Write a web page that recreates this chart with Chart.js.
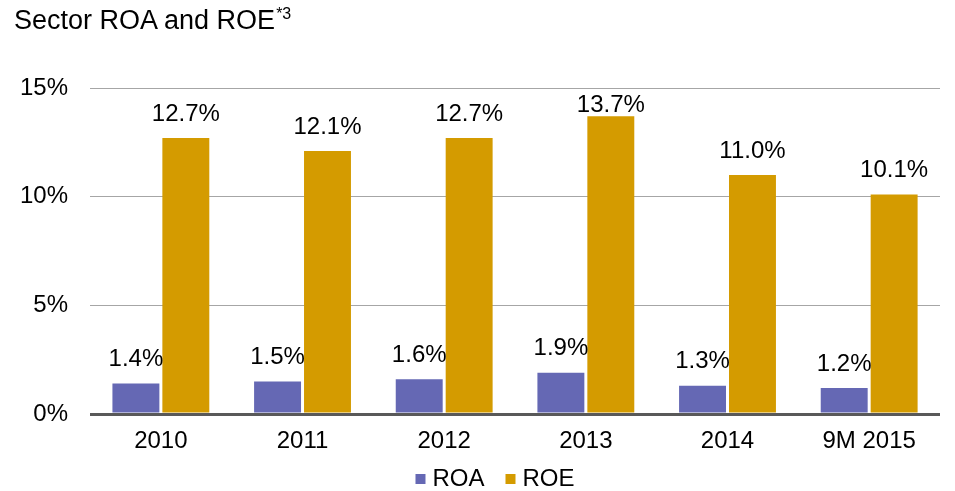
<!DOCTYPE html>
<html>
<head>
<meta charset="utf-8">
<script src="https://cdn.jsdelivr.net/npm/chart.js@4"></script>
<style>
  html, body { margin: 0; padding: 0; background: #ffffff; }
  #wrap { position: relative; width: 955px; height: 491px; }
  #title { position: absolute; left: 14px; top: -1px; line-height: 30px; font-family: "Liberation Sans", Arial, sans-serif; font-size: 27px; color: #000; white-space: nowrap; }
  #title sup { font-size: 16px; position: relative; top: 0px; margin-left: 1px; }
  canvas { position: absolute; left: 0; top: 0; }
</style>
</head>
<body>
<div id="wrap">
  <canvas id="c" width="955" height="491"></canvas>
  <div id="title">Sector ROA and ROE<sup>*3</sup></div>
</div>
<script>
const categories = ["2010", "2011", "2012", "2013", "2014", "9M 2015"];
const roaValues = [1.4, 1.5, 1.6, 1.9, 1.3, 1.2];
const roeValues = [12.7, 12.1, 12.7, 13.7, 11.0, 10.1];
const yTicks = [0, 5, 10, 15];

const FONT = "'Liberation Sans', Arial, sans-serif";

const valueLabels = {
  id: 'valueLabels',
  afterDatasetsDraw(chart) {
    const ctx = chart.ctx;
    ctx.save();
    ctx.font = "24px " + FONT;
    ctx.fillStyle = "#000";
    ctx.textAlign = "center";
    ctx.textBaseline = "middle";
    chart.data.datasets.forEach((ds, di) => {
      const meta = chart.getDatasetMeta(di);
      meta.data.forEach((bar, i) => {
        let y = bar.y - 24;
        const minY = chart.chartArea.top + 17;
        if (y < minY) y = minY;
        ctx.fillText(ds.data[i].toFixed(1) + "%", bar.x, y);
      });
    });
    ctx.restore();
  }
};

const bottomLegend = {
  id: 'bottomLegend',
  afterDraw(chart) {
    const ctx = chart.ctx;
    ctx.save();
    ctx.font = "24px " + FONT;
    ctx.textBaseline = "middle";
    ctx.textAlign = "left";
    const box = 10, boxGap = 7, itemGap = 21;
    const items = chart.data.datasets.map(ds => ({ text: ds.label, color: ds.backgroundColor, w: ctx.measureText(ds.label).width }));
    let total = 0;
    items.forEach((it, i) => { total += box + boxGap + it.w + (i ? itemGap : 0); });
    let x = 495 - total / 2;
    const cy = 479;
    items.forEach((it) => {
      ctx.fillStyle = it.color;
      ctx.fillRect(x, cy - box / 2, box, box);
      ctx.fillStyle = '#000';
      ctx.fillText(it.text, x + box + boxGap, cy);
      x += box + boxGap + it.w + itemGap;
    });
    ctx.restore();
  }
};

new Chart(document.getElementById('c'), {
  type: 'bar',
  data: {
    labels: categories,
    datasets: [
      { label: 'ROA', data: roaValues, backgroundColor: '#6568B4', borderWidth: 0 },
      { label: 'ROE', data: roeValues, backgroundColor: '#D49B00', borderWidth: 0 }
    ]
  },
  options: {
    responsive: false,
    animation: false,
    devicePixelRatio: 1,
    categoryPercentage: 0.705,
    barPercentage: 0.94,
    layout: { padding: { top: 88, left: -2, right: 15, bottom: 23 } },
    plugins: {
      legend: { display: false },
      tooltip: { enabled: false },
      title: { display: false }
    },
    scales: {
      x: {
        grid: { display: false, drawTicks: false },
        border: { display: false },
        ticks: { font: { size: 24, family: FONT, lineHeight: 1 }, color: '#000', padding: 15 }
      },
      y: {
        min: 0,
        max: 15,
        afterBuildTicks(axis) { axis.ticks = yTicks.map(v => ({ value: v })); },
        grid: {
          drawTicks: false,
          color: (c) => c.tick && c.tick.value === 0 ? '#595959' : '#a6a6a6',
          lineWidth: (c) => c.tick && c.tick.value === 0 ? 3 : 1
        },
        border: { display: false },
        ticks: {
          font: { size: 24, family: FONT },
          color: '#000',
          padding: 22,
          callback: (v) => v + '%'
        }
      }
    }
  },
  plugins: [valueLabels, bottomLegend]
});
</script>
</body>
</html>
